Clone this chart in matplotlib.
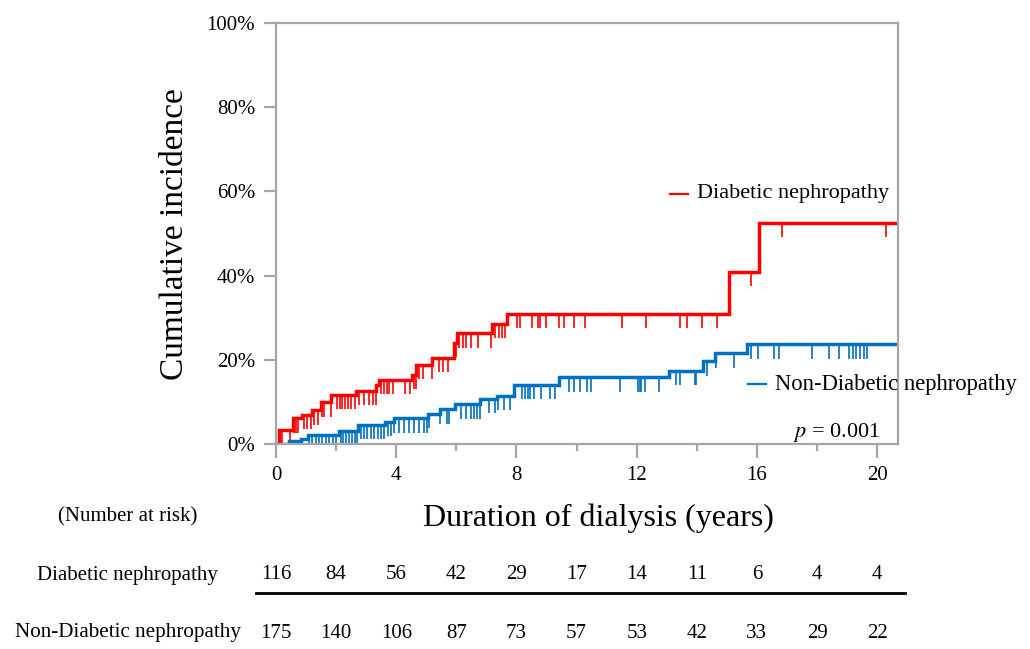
import numpy as np
import matplotlib
matplotlib.use("Agg")
import matplotlib.pyplot as plt
from matplotlib.ticker import MultipleLocator, FuncFormatter

plt.rcParams['font.family'] = ['Liberation Serif', 'DejaVu Serif']
plt.rcParams['mathtext.fontset'] = 'stix'

# --- données (années, %) ---
dn_times = [0, 0.1, 0.55, 0.87, 1.19, 1.49, 1.84, 2.67, 3.33, 3.43, 4.53, 4.67,
            5.2, 5.93, 6.03, 7.17, 7.67, 15.07, 16.07]
dn_inc = [0, 3.3, 6.1, 7.0, 8.0, 9.9, 11.6, 12.6, 14.0, 15.2, 16.4, 18.8,
          20.4, 24.0, 26.3, 28.5, 30.9, 40.9, 52.5]
dn_censor = [0.08, 0.19, 0.46, 0.6, 0.66, 0.74, 0.93, 1.04, 1.16, 1.27, 1.41, 1.52,
             1.6, 1.82, 2.04, 2.12, 2.21, 2.3, 2.38, 2.49, 2.63, 2.77, 2.93, 3.1,
             3.23, 3.32, 3.49, 3.6, 3.68, 3.77, 3.9, 4.3, 4.46, 4.6, 4.66, 4.77,
             4.88, 5.19, 5.43, 5.54, 5.71, 5.99, 6.1, 6.21, 6.32, 6.49, 6.71, 7.16,
             7.3, 7.41, 7.52, 7.63, 8.01, 8.13, 8.52, 8.71, 8.77, 8.99, 9.41, 9.58,
             9.93, 10.27, 11.51, 12.32, 13.43, 13.66, 14.16, 14.66, 15.82, 16.82, 20.3]

ndn_times = [0, 0.43, 0.82, 1.08, 2.1, 2.74, 3.63, 3.93, 5.04, 5.45, 5.95, 6.8,
             7.35, 7.93, 9.41, 13.08, 14.19, 14.6, 15.66]
ndn_inc = [0, 0.8, 1.3, 2.2, 3.2, 4.6, 5.3, 6.1, 7.2, 8.2, 9.4, 10.7,
           11.4, 14.0, 15.8, 17.3, 19.6, 21.5, 23.7]
ndn_censor = [0.88, 1.1, 1.21, 1.32, 1.43, 1.54, 1.66, 1.77, 1.88, 1.99, 2.16, 2.23,
              2.32, 2.43, 2.54, 2.63, 2.68, 2.82, 2.93, 3.04, 3.16, 3.27, 3.38, 3.49,
              3.6, 3.71, 3.82, 3.93, 4.1, 4.27, 4.43, 4.6, 4.77, 4.93, 5.01, 5.1,
              5.46, 5.68, 5.77, 6.16, 6.32, 6.49, 6.6, 6.68, 6.77, 7.1, 7.3, 7.38,
              7.6, 7.77, 8.19, 8.3, 8.38, 8.46, 8.57, 8.82, 9.1, 9.27, 9.74, 9.93,
              10.1, 10.34, 10.49, 11.46, 12.04, 12.1, 12.16, 12.27, 12.74, 13.32,
              13.43, 13.93, 13.99, 14.34, 14.63, 15.23, 15.82, 16.04, 16.57, 16.74,
              17.82, 18.4, 18.73, 19.08, 19.19, 19.3, 19.43, 19.57, 19.66]

risk_years = [0, 2, 4, 6, 8, 10, 12, 14, 16, 18, 20]
risk_dn = [116, 84, 56, 42, 29, 17, 14, 11, 6, 4, 4]
risk_ndn = [175, 140, 106, 87, 73, 57, 53, 42, 33, 29, 22]

x_max = 20.7
red = '#ff0000'
blue = '#0070c0'
grey = '#a6a6a6'

fig = plt.figure(figsize=(10.3, 6.49), dpi=100)
ax = fig.add_axes([0.268, 0.3159, 0.604, 0.6487])


def draw_group(times, inc, censor, color):
    t = list(times) + [x_max]
    y = list(inc) + [inc[-1]]
    ax.step(t, y, where='post', color=color, lw=2.5, solid_joinstyle='miter')
    # marques de censure : valeur de la courbe au temps de censure
    idx = np.searchsorted(times, censor, side='right') - 1
    yc = np.array(inc)[idx]
    ax.vlines(censor, yc - 3.4, yc, color=color, lw=1.2)


draw_group(dn_times, dn_inc, dn_censor, red)
draw_group(ndn_times, ndn_inc, ndn_censor, blue)

ax.set_xlim(0, x_max)
ax.set_ylim(0, 100)
for s in ax.spines.values():
    s.set_color(grey)
    s.set_linewidth(1.6)
ax.xaxis.set_major_locator(MultipleLocator(4))
ax.xaxis.set_minor_locator(MultipleLocator(2))
ax.yaxis.set_major_locator(MultipleLocator(20))
ax.yaxis.set_major_formatter(FuncFormatter(lambda v, p: f"{int(v)}%"))
ax.tick_params(axis='both', which='major', direction='out', color=grey,
               width=1.6, labelsize=15, pad=6)
ax.tick_params(axis='x', which='major', length=10)
ax.tick_params(axis='x', which='minor', length=5, color=grey, width=1.6)
ax.tick_params(axis='y', which='major', length=9)

# légende dans le graphique
ax.plot([13.1, 13.7], [59.4, 59.4], color=red, lw=1.6)
ax.text(14.0, 59.4, "Diabetic nephropathy", fontsize=16, va='center', ha='left')
ax.plot([15.7, 16.3], [14.2, 14.2], color=blue, lw=1.6, clip_on=False)
ax.text(16.6, 14.2, "Non-Diabetic nephropathy", fontsize=16.3, va='center', ha='left')
ax.text(20.1, 2.8, "$p$ = 0.001", fontsize=16, va='center', ha='right')

fig.text(0.170, 0.64, "Cumulative incidence", rotation=90, fontsize=24,
         ha='center', va='center')
fig.text(0.581, 0.202, "Duration of dialysis (years)", fontsize=23,
         ha='center', va='center')

# tableau des effectifs à risque
trans = ax.get_xaxis_transform()
fig.text(0.124, 0.203, "(Number at risk)", fontsize=15, ha='center', va='center')
fig.text(0.124, 0.114, "Diabetic nephropathy", fontsize=15, ha='center', va='center')
fig.text(0.124, 0.025, "Non-Diabetic nephropathy", fontsize=15.2, ha='center', va='center')
for yr, a, b in zip(risk_years, risk_dn, risk_ndn):
    ax.text(yr, -0.311, str(a), transform=trans, fontsize=15, ha='center', va='center')
    ax.text(yr, -0.449, str(b), transform=trans, fontsize=15, ha='center', va='center')
ax.plot([-0.67, 20.93], [-0.354, -0.354], transform=trans, color='black', lw=2,
        clip_on=False)

fig.savefig("out.png", dpi=100)
